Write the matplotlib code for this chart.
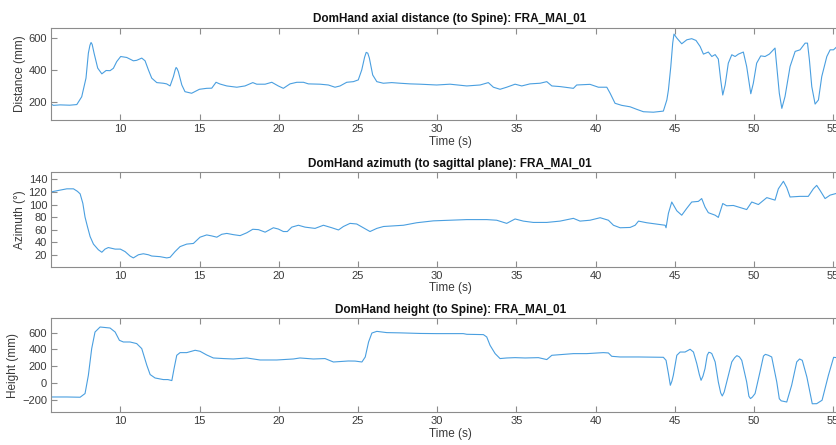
import matplotlib
matplotlib.use("Agg")
import matplotlib.pyplot as plt

plt.rcParams['font.family'] = ['Liberation Sans', 'DejaVu Sans']

# --- Axial distance of dominant hand to spine (mm) ---
dist_t = [5.64, 5.77, 6.2, 6.8, 7.25, 7.56, 7.83, 7.98, 8.08, 8.15, 8.22, 8.34, 8.57, 8.83, 9.1, 9.35,
          9.56, 9.77, 10.02, 10.4, 10.82, 11.03, 11.35, 11.56, 11.77, 11.98, 12.3, 12.71,
          12.92, 13.14, 13.35, 13.46, 13.52, 13.58, 13.66, 13.88, 14.08, 14.5, 14.99, 15.45, 15.77, 16.04,
          16.29, 16.72, 17.35, 17.87, 18.36, 18.61, 19.14, 19.56, 19.97, 20.29, 20.71, 21.14,
          21.56, 21.87, 22.61, 23.13, 23.55, 23.87, 24.29, 24.71, 25.02, 25.24, 25.42, 25.52,
          25.62, 25.72, 25.93, 26.19, 26.6, 27.13, 27.66, 28.29, 28.92, 29.97, 30.81, 31.87, 32.71,
          33.23, 33.55, 33.97, 34.39, 34.92, 35.34, 35.86, 36.5, 36.92, 37.24, 37.76, 38.6,
          38.81, 39.65, 40.18, 40.71, 40.92, 41.23, 41.65, 42.18, 42.6, 43.02, 43.65, 44.28,
          44.5, 44.6, 44.75, 44.87, 44.95, 45.13, 45.44, 45.76, 46.07, 46.34, 46.6, 46.81,
          47.12, 47.34, 47.55, 47.75, 47.9, 48.03, 48.18, 48.38, 48.6, 48.81, 49.02, 49.33,
          49.54, 49.8, 49.96, 50.17, 50.43, 50.7, 50.97, 51.33, 51.44, 51.6, 51.76, 51.96,
          52.28, 52.6, 52.91, 53.23, 53.38, 53.5, 53.65, 53.86, 54.07, 54.28, 54.6, 54.81,
          55.02, 55.25, 55.6, 56.0]
dist_v = [185, 177, 180, 178, 182, 231, 348, 505, 555, 572, 560, 505, 411, 375, 396, 395,
          410, 452, 484, 478, 457, 460, 474, 457, 400, 348, 320, 316,
          312, 299, 358, 400, 415, 408, 389, 305, 263, 253, 278, 284, 285, 322,
          311, 299, 291, 299, 320, 310, 310, 322, 299, 284, 312, 322,
          322, 312, 310, 305, 291, 299, 322, 326, 337, 400, 480, 510,
          505, 474, 368, 326, 316, 320, 316, 312, 310, 305, 310, 299, 305,
          320, 291, 278, 291, 310, 299, 312, 316, 326, 299, 295, 284,
          305, 309, 291, 291, 253, 190, 177, 168, 152, 137, 134, 141,
          211, 274, 421, 568, 625, 600, 564, 589, 596, 585, 547, 499,
          512, 484, 496, 468, 337, 242, 305, 442, 495, 484, 499, 512,
          421, 250, 316, 442, 488, 484, 499, 537, 421, 253, 158, 232,
          421, 516, 526, 568, 568, 463, 295, 185, 211, 358, 484, 526,
          526, 547, 560, 565]

# --- Azimuth of dominant hand to sagittal plane (deg) ---
azi_t = [5.64, 5.8, 6.62, 7.04, 7.29, 7.46, 7.63, 7.77, 7.92, 8.09, 8.3, 8.61, 8.83, 9.03,
         9.24, 9.67, 10.0, 10.3, 10.61, 10.82, 11.14, 11.45, 11.77, 11.98, 12.5, 12.93,
         13.14, 13.45, 13.77, 14.19, 14.61, 15.03, 15.45, 15.77, 16.09, 16.4, 16.72, 17.14,
         17.56, 17.98, 18.36, 18.72, 19.14, 19.66, 19.97, 20.29, 20.54, 20.82, 21.24, 21.66,
         22.29, 22.82, 23.35, 23.77, 24.08, 24.5, 24.92, 25.34, 25.76, 26.19, 26.61, 27.24,
         27.87, 28.71, 29.76, 30.81, 31.87, 33.13, 33.76, 34.39, 34.92, 35.44, 36.07, 36.92,
         37.76, 38.6, 39.02, 39.65, 40.29, 40.81, 41.13, 41.55, 42.18, 42.5, 42.71, 43.23,
         44.39, 44.45, 44.6, 44.81, 45.13, 45.44, 45.76, 46.07, 46.49, 46.7, 46.91, 47.12,
         47.55, 47.75, 48.03, 48.28, 48.7, 49.54, 49.86, 50.28, 50.81, 51.33, 51.54, 51.86,
         52.07, 52.28, 52.91, 53.43, 53.75, 53.96, 54.17, 54.49, 54.81, 55.25, 55.6, 56.0]
azi_v = [120, 121, 125, 125, 121, 117, 102, 80, 65, 49, 37, 28, 24, 29,
         31.5, 29, 29, 25, 18, 15, 20, 21.6, 20, 18, 17, 15,
         16, 25, 33, 37, 38, 48, 51.6, 50, 48, 52.6, 54, 52,
         50.5, 55, 60.6, 60, 56, 63, 61, 57, 57, 64, 67, 64,
         62, 67, 63, 59.5, 65, 70, 69, 63, 57, 62, 65, 66,
         67, 71, 74, 75, 76, 76, 75, 70, 77, 73.6, 71.5, 71.5,
         73.6, 78, 73.6, 75, 79, 75, 67, 63, 63.5, 67, 73.6, 71,
         67, 63, 86, 104, 90, 83, 94, 104, 105, 109.5, 96, 87,
         83, 79.5, 101.6, 98, 98.5, 92, 104, 100, 111, 107, 125, 137,
         127, 112, 113, 113, 125, 130.5, 122.6, 109.5, 115, 118, 119, 120]

# --- Height of dominant hand relative to spine (mm) ---
hgt_t = [5.64, 6.62, 7.46, 7.77, 7.98, 8.19, 8.4, 8.72, 9.35, 9.67, 9.94, 10.19, 10.61,
         11.03, 11.35, 11.67, 11.88, 12.19, 12.71, 13.0, 13.25, 13.39, 13.56, 13.77, 14.19,
         14.72, 15.03, 15.45, 15.87, 16.5, 17.13, 17.98, 18.82, 19.87, 20.92, 21.34, 22.18,
         22.92, 23.45, 23.87, 24.39, 24.82, 25.25, 25.46, 25.67, 25.88, 26.19, 26.82, 27.66,
         28.92, 29.97, 31.65, 31.87, 32.92, 33.13, 33.34, 33.66, 33.97, 34.39, 34.92, 35.55,
         36.39, 36.92, 37.24, 37.76, 38.6, 39.44, 40.49, 40.81, 41.02, 41.55, 42.71, 44.28,
         44.45, 44.6, 44.72, 44.82, 44.91, 45.13, 45.34, 45.65, 45.97, 46.18, 46.39, 46.55, 46.66,
         46.78, 46.91, 47.05, 47.15, 47.25, 47.34, 47.55, 47.75, 47.9, 48.0, 48.12, 48.28, 48.6,
         48.78, 48.92, 49.08, 49.23, 49.54, 49.68, 49.78, 49.9, 50.07, 50.38, 50.6, 50.72, 50.9,
         51.12, 51.44, 51.6, 51.72, 52.07, 52.38, 52.7, 52.88, 53.05, 53.34, 53.68, 53.96,
         54.3, 54.7, 55.03, 55.25, 55.6, 56.0]
hgt_v = [-169, -169, -172, -128, 90, 409, 607, 667, 655, 607, 508, 488, 488,
         469, 409, 210, 99, 58, 39, 39, 27, 170, 329, 361, 361,
         389, 377, 333, 297, 290, 285, 297, 273, 273, 285, 297, 285,
         290, 249, 254, 261, 260, 249, 309, 488, 595, 615, 600, 597,
         590, 588, 588, 580, 576, 548, 448, 349, 290, 297, 301, 297,
         301, 278, 329, 337, 349, 349, 361, 357, 317, 309, 309, 305,
         269, 110, -29, 20, 90, 329, 368, 368, 401, 368, 230, 100, 30,
         80, 170, 330, 365, 360, 349, 250, 10, -120, -157, -110, 10, 250,
         300, 325, 310, 269, 10, -160, -188, -170, -128, 130, 320, 340, 330,
         309, 10, -190, -215, -229, -29, 250, 285, 269, 70, -250, -249,
         -208, 90, 305, 300, 240, 150]

line_color = '#4a9fe0'
spine_color = '#8c8c8c'
text_color = '#3a3a3a'

W, H = 837, 445
fig = plt.figure(figsize=(W / 100, H / 100), dpi=100)

left = 51.3 / W
width = (849.0 - 51.3) / W
panels = [
    dict(t=dist_t, v=dist_v, top=27.7, bottom=120.0, ylim=(85, 665), yticks=[200, 400, 600],
         ylabel='Distance (mm)', title='DomHand axial distance (to Spine): FRA_MAI_01'),
    dict(t=azi_t, v=azi_v, top=172.5, bottom=266.7, ylim=(1, 151),
         yticks=[20, 40, 60, 80, 100, 120, 140],
         ylabel='Azimuth (°)', title='DomHand azimuth (to sagittal plane): FRA_MAI_01'),
    dict(t=hgt_t, v=hgt_v, top=318.3, bottom=412.3, ylim=(-352, 771),
         yticks=[-200, 0, 200, 400, 600],
         ylabel='Height (mm)', title='DomHand height (to Spine): FRA_MAI_01'),
]

for p in panels:
    ax = fig.add_axes([left, 1 - p['bottom'] / H, width, (p['bottom'] - p['top']) / H])
    ax.plot(p['t'], p['v'], color=line_color, lw=0.8)
    ax.set_xlim(5.64, 56.0)
    ax.set_ylim(*p['ylim'])
    ax.set_xticks([10, 15, 20, 25, 30, 35, 40, 45, 50, 55])
    ax.set_yticks(p['yticks'])
    for s in ax.spines.values():
        s.set_color(spine_color)
        s.set_linewidth(0.8)
    ax.tick_params(direction='in', length=4, width=0.8, color=spine_color,
                   labelsize=8, labelcolor=text_color, top=True, right=False, pad=3)
    ax.set_xlabel('Time (s)', fontsize=8.5, color=text_color, labelpad=1)
    ax.set_ylabel(p['ylabel'], fontsize=8.5, color=text_color, labelpad=2)
    ax.set_title(p['title'], fontsize=8.5, fontweight='bold', color='#111111', pad=4)

fig.savefig('out.png', dpi=100)
